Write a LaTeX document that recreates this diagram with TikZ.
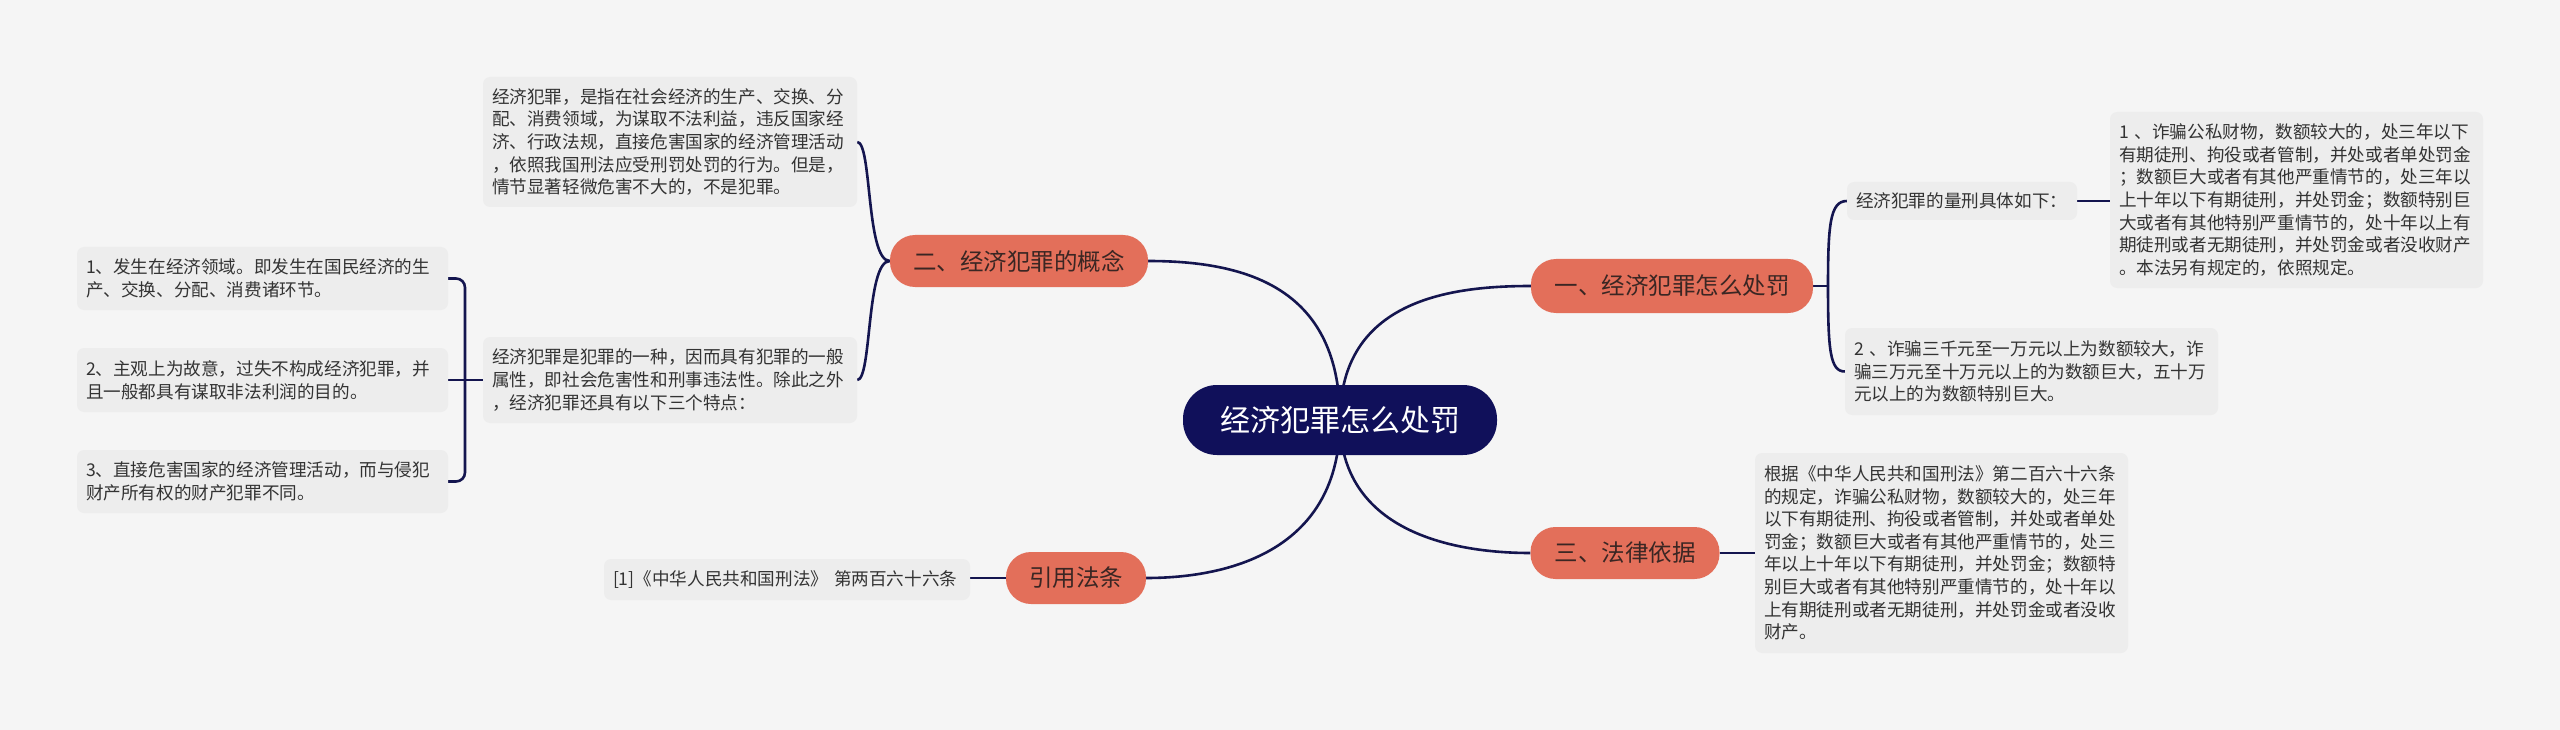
\documentclass[tikz,border=0pt]{standalone}
\usepackage{fontspec}
\setmainfont{Noto Sans CJK SC}
\usetikzlibrary{backgrounds}
\definecolor{bgc}{HTML}{F5F5F5}
\definecolor{leafc}{HTML}{EDEDED}
\definecolor{salmon}{HTML}{E36F5A}
\definecolor{navy}{HTML}{10105A}
\definecolor{linec}{HTML}{14154F}
\definecolor{txt}{HTML}{333333}
\definecolor{txtb}{HTML}{3A2623}
\begin{document}
\begin{tikzpicture}[x=1pt,y=-1pt,
  conn/.style={draw=linec,line width=2.6pt},
  rootnode/.style={fill=navy,text=white,rounded corners=34pt,minimum width=314pt,minimum height=70pt,font=\fontsize{30}{36}\selectfont,inner sep=0pt},
  topic/.style={fill=salmon,text=txtb,rounded corners=25pt,minimum height=52pt,font=\fontsize{23.5}{28}\selectfont,inner sep=0pt},
  leaf/.style={fill=leafc,text=txt,rounded corners=7pt,inner xsep=9pt,inner ysep=3pt,align=left,font=\fontsize{17.6}{22.6}\selectfont}]
\useasboundingbox (0,0) rectangle (2560,730);

% root and topics
\node[rootnode] (root) at (1340,420) {经济犯罪怎么处罚};
\node[topic,minimum width=258pt] (n2) at (1019,261) {二、经济犯罪的概念};
\node[topic,minimum width=282pt,minimum height=54pt] (n1) at (1672,286) {一、经济犯罪怎么处罚};
\node[topic,minimum width=189pt] (n3) at (1625,553) {三、法律依据};
\node[topic,minimum width=140pt] (n4) at (1076,578) {引用法条};

% leaves left
\node[leaf,text width=356pt,minimum height=130pt] (A) at (670,142) {经济犯罪，是指在社会经济的生产、交换、分\\配、消费领域，为谋取不法利益，违反国家经\\济、行政法规，直接危害国家的经济管理活动\\，依照我国刑法应受刑罚处罚的行为。但是，\\情节显著轻微危害不大的，不是犯罪。};
\node[leaf,text width=356pt,minimum height=86pt] (B) at (670,380) {经济犯罪是犯罪的一种，因而具有犯罪的一般\\属性，即社会危害性和刑事违法性。除此之外\\，经济犯罪还具有以下三个特点：};
\node[leaf,text width=353pt,minimum height=63pt] (C1) at (262.5,278.5) {1、发生在经济领域。即发生在国民经济的生\\产、交换、分配、消费诸环节。};
\node[leaf,text width=353pt,minimum height=64pt] (C2) at (262.5,380) {2、主观上为故意，过失不构成经济犯罪，并\\且一般都具有谋取非法利润的目的。};
\node[leaf,text width=353pt,minimum height=63pt] (C3) at (262.5,481.5) {3、直接危害国家的经济管理活动，而与侵犯\\财产所有权的财产犯罪不同。};
\node[leaf,text width=348pt,minimum height=41pt] (H) at (787,579.5) {[1]《中华人民共和国刑法》~第两百六十六条};

% leaves right
\node[leaf,text width=212pt,minimum height=38pt] (D) at (1962,201) {经济犯罪的量刑具体如下：};
\node[leaf,text width=355pt,minimum height=176pt] (E) at (2296.5,200) {1 、诈骗公私财物，数额较大的，处三年以下\\有期徒刑、拘役或者管制，并处或者单处罚金\\；数额巨大或者有其他严重情节的，处三年以\\上十年以下有期徒刑，并处罚金；数额特别巨\\大或者有其他特别严重情节的，处十年以上有\\期徒刑或者无期徒刑，并处罚金或者没收财产\\。本法另有规定的，依照规定。};
\node[leaf,text width=355pt,minimum height=87pt] (F) at (2031.5,371.5) {2 、诈骗三千元至一万元以上为数额较大，诈\\骗三万元至十万元以上的为数额巨大，五十万\\元以上的为数额特别巨大。};
\node[leaf,text width=355pt,minimum height=200pt] (G) at (1941.5,553) {根据《中华人民共和国刑法》第二百六十六条\\的规定，诈骗公私财物，数额较大的，处三年\\以下有期徒刑、拘役或者管制，并处或者单处\\罚金；数额巨大或者有其他严重情节的，处三\\年以上十年以下有期徒刑，并处罚金；数额特\\别巨大或者有其他特别严重情节的，处十年以\\上有期徒刑或者无期徒刑，并处罚金或者没收\\财产。};

\coordinate (j1) at (1828,286);
\coordinate (j2) at (465,380);

\begin{scope}[on background layer]
\fill[bgc] (0,0) rectangle (2560,730);
% root connectors
\draw[conn] (root.center) .. controls (1340,290) and (1250,261) .. (n2.east);
\draw[conn] (root.center) .. controls (1340,300) and (1450,286) .. (n1.west);
\draw[conn] (root.center) .. controls (1340,530) and (1450,553) .. (n3.west);
\draw[conn] (root.center) .. controls (1340,550) and (1230,578) .. (n4.east);
% concept branch
\draw[conn] (n2.west) .. controls (866,261) and (872,142) .. (A.east);
\draw[conn] (n2.west) .. controls (866,261) and (872,380) .. (B.east);
\draw[conn] (B.west) -- (j2);
\draw[conn,rounded corners=9pt] (j2) |- (C1.east);
\draw[conn,rounded corners=9pt] (j2) |- (C3.east);
\draw[conn] (j2) -- (C2.east);
% punishment branch
\draw[conn] (n1.east) -- (j1);
\draw[conn] (j1) .. controls (1828,225) and (1830,201) .. (D.west);
\draw[conn] (j1) .. controls (1828,350) and (1830,371.5) .. (F.west);
\draw[conn] (D.east) -- (D.east -| E.west);
% law basis
\draw[conn] (n3.east) -- (n3.east -| G.west);
% citation
\draw[conn] (n4.west) -- (n4.west -| H.east);
\end{scope}
\end{tikzpicture}
\end{document}
